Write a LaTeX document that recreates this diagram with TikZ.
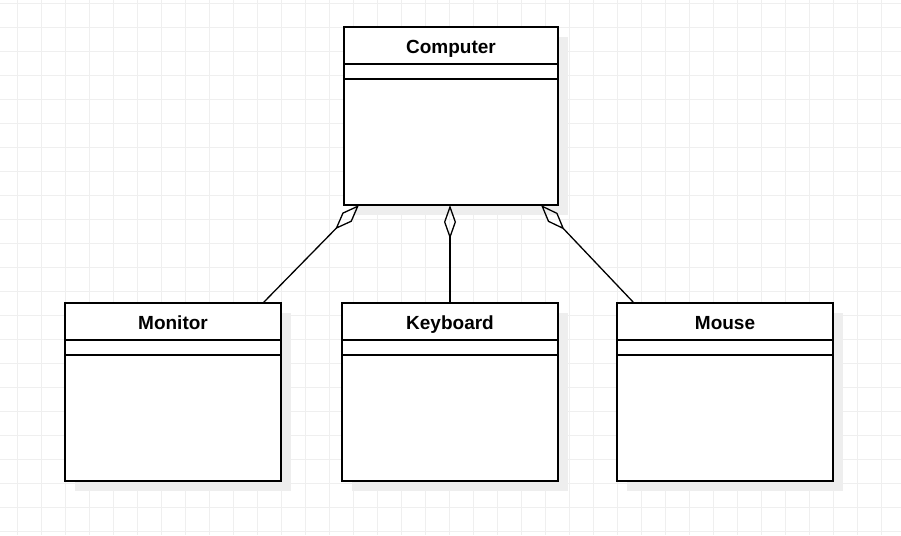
\documentclass[tikz,border=0pt]{standalone}
\usepackage{fontspec}
\setmainfont{Liberation Sans}
\usetikzlibrary{arrows.meta,shadows}
\definecolor{gridc}{HTML}{EFEFEF}
\definecolor{shadc}{HTML}{EEEEEE}
\begin{document}
\begin{tikzpicture}[x=1pt,y=-1pt,
  umlbox/.style={draw, line width=1.3pt, fill=white, minimum width=216pt, minimum height=178pt,
    inner sep=0pt, outer sep=0pt, anchor=north west,
    drop shadow={shadow xshift=10pt, shadow yshift=-10pt, fill=shadc, opacity=1}},
  umltitle/.style={font=\bfseries\fontsize{19}{22}\selectfont, inner sep=0pt, anchor=base},
  sep/.style={line width=1.3pt},
  aggr/.style={line width=1.3pt, -{Diamond[open, length=34pt, width=13pt, line width=1.3pt]}}]
\useasboundingbox (0,0) rectangle (901,535);
\fill[white] (0,0) rectangle (901,535);
% grid
\foreach \i in {0,...,37} {\draw[gridc, line width=1pt] (17.3+24*\i,0) -- (17.3+24*\i,535);}
\foreach \j in {0,...,22} {\draw[gridc, line width=1pt] (0,3.3+24*\j) -- (901,3.3+24*\j);}
% boxes
\node[umlbox, minimum width=214pt] (computer) at (344,27) {};
\node[umlbox] (monitor) at (65,303) {};
\node[umlbox] (keyboard) at (342,303) {};
\node[umlbox] (mouse) at (617,303) {};
% titles and compartments
\foreach \n/\t in {computer/Computer, monitor/Monitor, keyboard/Keyboard, mouse/Mouse} {
  \node[umltitle] (\n-title) at ([yshift=-26pt]\n.north) {\t};
  \draw[sep] ([yshift=-37pt]\n.north west) -- ([yshift=-37pt]\n.north east);
  \draw[sep] ([yshift=-52pt]\n.north west) -- ([yshift=-52pt]\n.north east);
}
% aggregations
\draw[aggr] ([xshift=90pt]monitor.north) -- ([xshift=-92pt]computer.south);
\draw[aggr, -{Diamond[open, length=34pt, width=12pt, line width=1.3pt]}] (keyboard.north) -- (keyboard.north |- computer.south);
\draw[aggr] ([xshift=-91pt]mouse.north) -- ([xshift=90pt]computer.south);
\end{tikzpicture}
\end{document}
